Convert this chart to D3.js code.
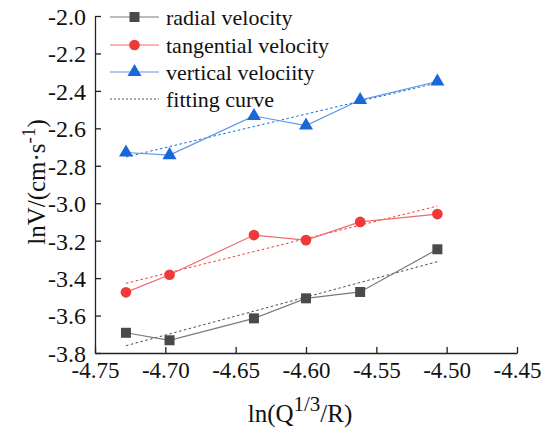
<!DOCTYPE html>
<html>
<head>
<meta charset="utf-8">
<script src="https://cdn.jsdelivr.net/npm/d3@7"></script>
<style>
  body { margin: 0; background: #fff; }
</style>
</head>
<body>
<script>
// data
const xVals = [-4.728, -4.697, -4.637, -4.600, -4.5615, -4.5066]
const radial = [-3.692, -3.732, -3.615, -3.508, -3.474, -3.246]
const tangential = [-3.476, -3.382, -3.170, -3.197, -3.100, -3.058]
const vertical = [-2.729, -2.743, -2.534, -2.585, -2.449, -2.350]
// fitting curve end points [x start, x end] and the y for each series
const fitX = [-4.728, -4.5066]
const fitRadial = [-3.761, -3.312]
const fitTangential = [-3.428, -3.015]
const fitVertical = [-2.753, -2.357]
const xTicks = [-4.75, -4.70, -4.65, -4.60, -4.55, -4.50, -4.45]
const yTicks = [-3.8, -3.6, -3.4, -3.2, -3.0, -2.8, -2.6, -2.4, -2.2, -2.0]

const W = 554, H = 434
const margin = {t: 16, r: 37, b: 81, l: 95}
const FONT = '"Liberation Serif", "Times New Roman", serif'

const svg = d3.select('body').append('svg')
  .attr('width', W)
  .attr('height', H)
  .style('font-family', FONT)

const x = d3.scaleLinear().domain([-4.75, -4.45]).range([margin.l, W - margin.r])
const y = d3.scaleLinear().domain([-3.8, -2.0]).range([H - margin.b, margin.t])

const hy = s => s.replace('\u2212', '-')

// axes, ticks point inward
const xAxis = svg.append('g')
  .attr('transform', `translate(0,${H - margin.b})`)
  .call(d3.axisBottom(x).tickValues(xTicks).tickSizeInner(-6).tickSizeOuter(0)
    .tickFormat(d => hy(d3.format('.2f')(d))))
xAxis.selectAll('text').attr('dy', null).attr('y', 25)
  .style('font-size', '23px').style('font-family', FONT).attr('fill', '#111')

const yAxis = svg.append('g')
  .attr('transform', `translate(${margin.l},0)`)
  .call(d3.axisLeft(y).tickValues(yTicks).tickSizeInner(-6).tickSizeOuter(0)
    .tickFormat(d => hy(d3.format('.1f')(d))))
yAxis.selectAll('text').attr('x', -9).attr('dy', '0.35em')
  .style('font-size', '24px').style('font-family', FONT).attr('fill', '#111')

svg.selectAll('.domain, .tick line').attr('stroke', '#222').attr('stroke-width', 1.3)

const series = [
  {name: 'radial velocity', vals: radial, fit: fitRadial, line: '#7a7a7a', mark: '#4a4a4a', shape: 'square'},
  {name: 'tangential velocity', vals: tangential, fit: fitTangential, line: '#f06a6a', mark: '#f03a3a', shape: 'circle'},
  {name: 'vertical velociity', vals: vertical, fit: fitVertical, line: '#5c98e6', mark: '#1a68d8', shape: 'triangle'}
]

const symbols = {
  square: d3.symbol().type(d3.symbolSquare).size(100),
  circle: d3.symbol().type(d3.symbolCircle).size(90),
  triangle: d3.symbol().type(d3.symbolTriangle).size(85)
}

const line = d3.line().x(d => x(d[0])).y(d => y(d[1]))

series.forEach(s => {
  // fitting curve (dotted)
  svg.append('path')
    .attr('d', line(fitX.map((v, i) => [v, s.fit[i]])))
    .attr('fill', 'none')
    .attr('stroke', s.mark)
    .attr('stroke-width', 1)
    .attr('stroke-dasharray', '2.5,2.5')

  svg.append('path')
    .attr('d', line(xVals.map((v, i) => [v, s.vals[i]])))
    .attr('fill', 'none')
    .attr('stroke', s.line)
    .attr('stroke-width', 1.2)

  svg.selectAll(null)
    .data(xVals.map((v, i) => [v, s.vals[i]]))
    .join('path')
      .attr('d', symbols[s.shape])
      .attr('transform', d => `translate(${x(d[0])},${y(d[1])})`)
      .attr('fill', s.mark)
})

// legend
const legend = svg.append('g')
const rowY = [17, 45, 72, 99]
const legText = (txt, yy) => legend.append('text')
  .attr('x', 166).attr('y', yy + 8)
  .style('font-size', '22px').style('font-family', FONT).attr('fill', '#111')
  .text(txt)
series.forEach((s, i) => {
  legend.append('line')
    .attr('x1', 110).attr('x2', 159)
    .attr('y1', rowY[i]).attr('y2', rowY[i])
    .attr('stroke', s.line).attr('stroke-width', 1.2)
  legend.append('path')
    .attr('d', symbols[s.shape])
    .attr('transform', `translate(134.5,${rowY[i]})`)
    .attr('fill', s.mark)
  legText(s.name, rowY[i])
})
legend.append('line')
  .attr('x1', 110).attr('x2', 159)
  .attr('y1', rowY[3]).attr('y2', rowY[3])
  .attr('stroke', '#555').attr('stroke-width', 1).attr('stroke-dasharray', '2,2')
legText('fitting curve', rowY[3])

// axis titles
const xt = svg.append('text')
  .attr('x', 300).attr('y', 422)
  .attr('text-anchor', 'middle')
  .style('font-size', '25px').style('font-family', FONT).attr('fill', '#111')
xt.append('tspan').text('ln(Q')
xt.append('tspan').attr('dy', -11).style('font-size', '21px').text('1/3')
xt.append('tspan').attr('dy', 11).text('/R)')

const yt = svg.append('text')
  .attr('transform', 'translate(45,182) rotate(-90)')
  .attr('text-anchor', 'middle')
  .style('font-size', '25px').style('font-family', FONT).attr('fill', '#111')
yt.append('tspan').text('lnV/(cm·s')
yt.append('tspan').attr('dy', -10).style('font-size', '19px').text('-1')
yt.append('tspan').attr('dy', 10).text(')')
</script>
</body>
</html>
